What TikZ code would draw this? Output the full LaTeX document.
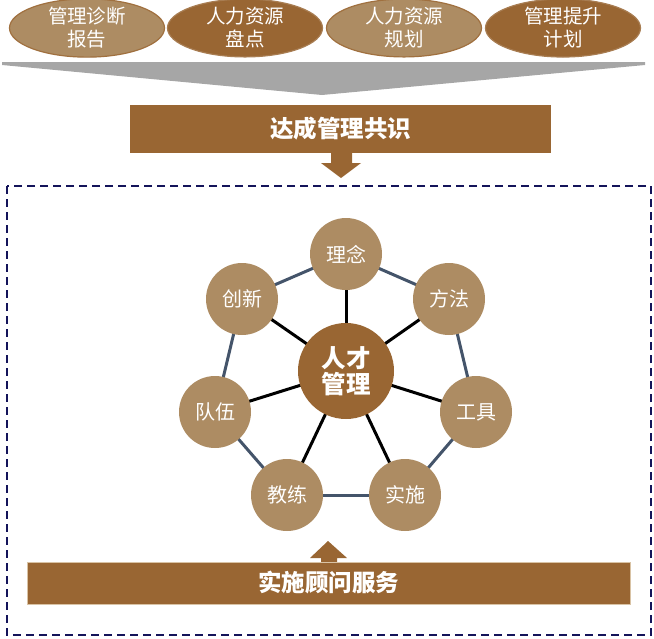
\documentclass[tikz,border=0pt]{standalone}
\usepackage{fontspec}
\newfontfamily\cjk{Noto Sans CJK SC}
\usetikzlibrary{shapes.geometric}
\definecolor{brownA}{HTML}{996633}
\definecolor{tanA}{HTML}{AD8C63}
\definecolor{tanB}{HTML}{A0703F}
\definecolor{grayA}{HTML}{A6A6A6}
\definecolor{slate}{HTML}{44546A}
\definecolor{navy}{HTML}{14145A}
\definecolor{paleA}{HTML}{D9C3A5}
\tikzset{
  ell/.style={ellipse,minimum width=155pt,minimum height=52pt,inner sep=0pt,align=center,
    text=white,font=\cjk\fontsize{19.5}{23}\selectfont,line width=1.2pt},
  elllight/.style={ell,fill=tanA,draw=tanB},
  elldark/.style={ell,fill=brownA,draw=brownA!85!white},
  banner/.style={fill=brownA,text=white,font=\cjk\bfseries\fontsize{23.5}{26}\selectfont,inner sep=0pt},
  petal/.style={circle,fill=tanA,minimum size=72pt,inner sep=0pt,text=white,
    font=\cjk\fontsize{20}{22}\selectfont},
  hub/.style={circle,fill=brownA,minimum size=96pt,inner sep=0pt,text=white,align=center,
    font=\cjk\bfseries\fontsize{24.5}{26}\selectfont},
  spoke/.style={black,line width=3pt},
  rim/.style={slate,line width=3pt},
  arr/.style={fill=brownA}
}
\begin{document}
\begin{tikzpicture}[x=1pt,y=-1pt]
\useasboundingbox (0,0) rectangle (654,638);
% top ellipses
\node[elllight] (e1) at (87,28) {管理诊断\\报告};
\node[elldark]  (e2) at (245,28) {人力资源\\盘点};
\node[elllight] (e3) at (404,28) {人力资源\\规划};
\node[elldark]  (e4) at (563,28) {管理提升\\计划};
% gray funnel
\fill[grayA] (2,62) -- (645,62) -- (645,65) -- (322,95) -- (2,65) -- cycle;
% consensus banner
\node[banner,minimum width=421pt,minimum height=48pt] (cons) at (340.5,129) {达成管理共识};
\fill[arr] (331,153) -- (352,153) -- (352,163) -- (361,163) -- (341,178) -- (321,163) -- (331,163) -- cycle;
% dashed frame
\draw[navy,line width=1.8pt,dash pattern=on 8pt off 5pt] (7,186) rectangle (651,635);
% wheel: positions
\coordinate (hubc) at (346,371);
\coordinate (c1) at (346,254);
\coordinate (c2) at (449,299);
\coordinate (c3) at (476,412);
\coordinate (c4) at (405,495);
\coordinate (c5) at (287,495);
\coordinate (c6) at (215,412);
\coordinate (c7) at (242,299);
\foreach \a/\b in {c1/c2,c2/c3,c3/c4,c4/c5,c5/c6,c6/c7,c7/c1}
  \draw[rim] (\a) -- (\b);
\foreach \p in {c1,c2,c3,c4,c5,c6,c7}
  \draw[spoke] (hubc) -- (\p);
\node[hub] (hub) at (hubc) {人才\\管理};
\node[petal] (p1) at (c1) {理念};
\node[petal] (p2) at (c2) {方法};
\node[petal] (p3) at (c3) {工具};
\node[petal] (p4) at (c4) {实施};
\node[petal] (p5) at (c5) {教练};
\node[petal] (p6) at (c6) {队伍};
\node[petal] (p7) at (c7) {创新};
% bottom banner
\fill[arr] (321,562) -- (337,562) -- (337,558) -- (347,558) -- (328,541) -- (310,558) -- (321,558) -- cycle;
\node[banner,draw=paleA,line width=0.8pt,minimum width=603pt,minimum height=42pt] (serv) at (328.5,583) {实施顾问服务};
\end{tikzpicture}
\end{document}
